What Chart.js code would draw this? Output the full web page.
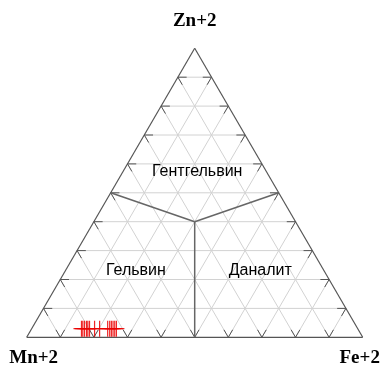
<!DOCTYPE html>
<html>
<head>
<meta charset="utf-8">
<script src="https://cdn.jsdelivr.net/npm/chart.js@4"></script>
<style>
body { margin: 0; background: #fff; }
</style>
</head>
<body>
<canvas id="myChart" width="380" height="374"></canvas>
<script>
/* samples, fractions of Mn, Fe, Zn */
var sample_mn = [0.822, 0.818, 0.813, 0.807, 0.803, 0.798, 0.783, 0.768, 0.744, 0.738, 0.733, 0.728, 0.723, 0.718];
var sample_fe = [0.148, 0.152, 0.157, 0.163, 0.167, 0.172, 0.187, 0.202, 0.226, 0.232, 0.237, 0.242, 0.247, 0.252];
var sample_zn = [0.03, 0.03, 0.03, 0.03, 0.03, 0.03, 0.03, 0.03, 0.03, 0.03, 0.03, 0.03, 0.03, 0.03];

/* corners: Mn (left), Fe (right), Zn (top) */
var corner_labels = ['Mn+2', 'Fe+2', 'Zn+2'];

/* mineral fields */
var field_labels = ['Гельвин', 'Даналит', 'Гентгельвин'];
var field_mn = [0.56, 0.19, 0.205];
var field_fe = [0.21, 0.58, 0.22];
var field_zn = [0.23, 0.23, 0.575];

/* field borders: centre point, then the three ends */
var border_mn = [0.3, 0.5, 0, 0.5];
var border_fe = [0.3, 0, 0.5, 0.5];
var border_zn = [0.4, 0.5, 0.5, 0];

var divisions = 10;
var tick_len = 0.026;
var H = Math.sqrt(3) / 2;

/**
	Ternary composition to x/y on the chart scales
*/
function tern(mn, fe, zn) {
	var s = mn + fe + zn;
	return { x: (fe + zn / 2) / s, y: zn / s * H };
}

function lineSet(a, b, color, width) {
	return {
		type: 'line',
		data: [a, b],
		showLine: true,
		borderColor: color,
		borderWidth: width,
		pointRadius: 0,
		fill: false,
		clip: false
	};
}

/* part of segment a-b, from a, of length len (in ternary units) */
function part(a, b, len, full) {
	var f = len / full;
	return { x: a.x + (b.x - a.x) * f, y: a.y + (b.y - a.y) * f };
}

var datasets = [];

/* data points */
var points = [];
for (var i = 0; i < sample_fe.length; i++) {
	points.push(tern(sample_mn[i], sample_fe[i], sample_zn[i]));
}
datasets.push({
	type: 'scatter',
	data: points,
	pointStyle: 'cross',
	pointRadius: 8,
	pointBorderColor: 'rgba(235, 0, 0, 0.85)',
	pointBorderWidth: 1.2,
	clip: false
});

/* field borders */
var centre = tern(border_mn[0], border_fe[0], border_zn[0]);
for (var i = 1; i < border_mn.length; i++) {
	datasets.push(lineSet(centre, tern(border_mn[i], border_fe[i], border_zn[i]), '#666', 1.5));
}

/* triangle edges */
var A = tern(1, 0, 0), B = tern(0, 1, 0), C = tern(0, 0, 1);
datasets.push(lineSet(A, B, '#555', 1.2));
datasets.push(lineSet(B, C, '#555', 1.2));
datasets.push(lineSet(C, A, '#555', 1.2));

/* grid lines with dark ticks at both ends */
var grid = [];
var ticks = [];
for (var k = 1; k < divisions; k++) {
	var t = k / divisions;
	var lines = [
		[tern(1 - t, 0, t), tern(0, 1 - t, t)],   /* Zn const */
		[tern(t, 0, 1 - t), tern(t, 1 - t, 0)],   /* Mn const */
		[tern(0, t, 1 - t), tern(1 - t, t, 0)]    /* Fe const */
	];
	for (var j = 0; j < lines.length; j++) {
		var a = lines[j][0], b = lines[j][1];
		grid.push(lineSet(a, b, '#d2d2d2', 1));
		ticks.push(lineSet(a, part(a, b, tick_len, 1 - t), '#555', 1));
		ticks.push(lineSet(b, part(b, a, tick_len, 1 - t), '#555', 1));
	}
}
datasets = datasets.concat(ticks).concat(grid);

var labelPlugin = {
	id: 'ternLabels',
	afterDatasetsDraw: function(chart) {
		var ctx = chart.ctx;
		var sx = chart.scales.x, sy = chart.scales.y;
		ctx.save();
		ctx.fillStyle = '#000';
		ctx.textAlign = 'center';

		/* field names */
		ctx.font = '16px "Liberation Sans", Arial, sans-serif';
		ctx.textBaseline = 'middle';
		for (var i = 0; i < field_labels.length; i++) {
			var p = tern(field_mn[i], field_fe[i], field_zn[i]);
			ctx.fillText(field_labels[i], sx.getPixelForValue(p.x), sy.getPixelForValue(p.y));
		}

		/* corner names */
		ctx.font = 'bold 19px "Liberation Serif", "Times New Roman", serif';
		ctx.textBaseline = 'alphabetic';
		var offs = [[7, 26], [-3, 26], [0, -22]];
		var corners = [A, B, C];
		for (var i = 0; i < corners.length; i++) {
			ctx.fillText(corner_labels[i],
				sx.getPixelForValue(corners[i].x) + offs[i][0],
				sy.getPixelForValue(corners[i].y) + offs[i][1]);
		}
		ctx.restore();
	}
};

var ctx = document.getElementById('myChart').getContext('2d');
var graph = new Chart(ctx, {
	type: 'scatter',
	data: { datasets: datasets },
	options: {
		responsive: false,
		animation: false,
		layout: {
			padding: { left: 26.7, right: 17.3, top: 48.3, bottom: 36.7 }
		},
		plugins: {
			legend: { display: false },
			tooltip: { enabled: false }
		},
		scales: {
			x: { type: 'linear', min: 0, max: 1, display: false },
			y: { type: 'linear', min: 0, max: H, display: false }
		}
	},
	plugins: [labelPlugin]
});
</script>
</body>
</html>
